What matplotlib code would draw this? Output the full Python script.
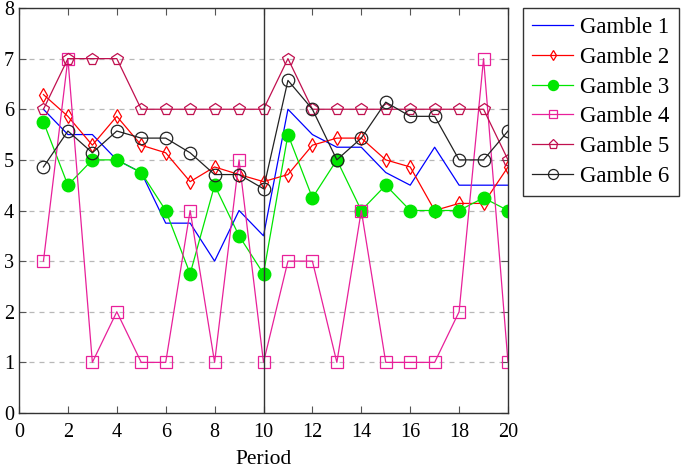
import numpy as np
import matplotlib
matplotlib.use("Agg")
import matplotlib.pyplot as plt

plt.rcParams['font.family'] = ['Liberation Serif', 'DejaVu Serif']
plt.rcParams['mathtext.fontset'] = 'stix'

periods = list(range(1, 21))

gamble1 = [6.0, 5.5, 5.5, 5.0, 4.75, 3.75, 3.75, 3.0, 4.0, 3.5,
           6.0, 5.5, 5.25, 5.25, 4.75, 4.5, 5.25, 4.5, 4.5, 4.5]
gamble2 = [6.29, 5.86, 5.29, 5.86, 5.29, 5.14, 4.57, 4.86, 4.71, 4.57,
           4.71, 5.29, 5.43, 5.43, 5.0, 4.86, 4.0, 4.14, 4.14, 4.86]
gamble3 = [5.75, 4.5, 5.0, 5.0, 4.75, 4.0, 2.75, 4.5, 3.5, 2.75,
           5.5, 4.25, 5.0, 4.0, 4.5, 4.0, 4.0, 4.0, 4.25, 4.0]
gamble4 = [3, 7, 1, 2, 1, 1, 4, 1, 5, 1,
           3, 3, 1, 4, 1, 1, 1, 2, 7, 1]
gamble5 = [6, 7, 7, 7, 6, 6, 6, 6, 6, 6,
           7, 6, 6, 6, 6, 6, 6, 6, 6, 5]
gamble6 = [4.86, 5.57, 5.14, 5.57, 5.43, 5.43, 5.14, 4.71, 4.71, 4.43,
           6.57, 6.0, 5.0, 5.43, 6.14, 5.86, 5.86, 5.0, 5.0, 5.57]

labels = ['Gamble 1', 'Gamble 2', 'Gamble 3', 'Gamble 4', 'Gamble 5', 'Gamble 6']

fig = plt.figure(figsize=(6.85, 4.70), dpi=100)
ax = fig.add_axes([19 / 685, 1 - 413 / 470, (508 - 19) / 685, (413 - 8) / 470])

lw = 0.9
ax.plot(periods, gamble1, color='#0000ff', lw=lw, label=labels[0])
ax.plot(periods, gamble2, color='#ff0000', lw=lw, marker='d', ms=7, mfc='none',
        mew=0.9, label=labels[1])
ax.plot(periods, gamble3, color='#00e600', lw=lw, marker='o', ms=9, mfc='#00e600',
        mec='#00e600', label=labels[2])
ax.plot(periods, gamble4, color='#e8209a', lw=lw, marker='s', ms=8, mfc='none',
        mew=0.9, label=labels[3])
ax.plot(periods, gamble5, color='#c0104f', lw=lw, marker='p', ms=8.5, mfc='none',
        mew=0.9, label=labels[4])
ax.plot(periods, gamble6, color='#222222', lw=lw, marker='o', ms=9, mfc='none',
        mew=0.9, label=labels[5])

ax.axvline(10, color='#333333', lw=1.0)

ax.set_xlim(0, 20)
ax.set_ylim(0, 8)
ax.set_xticks(range(0, 21, 2))
ax.set_yticks(range(0, 9))
ax.yaxis.grid(True, color='#b8b8b8', lw=0.9, dashes=(4, 4))
ax.set_axisbelow(True)
ax.tick_params(direction='in', top=True, right=True, length=5, width=0.8,
               labelsize=14.5, color='#555555')
ax.tick_params(axis='x', pad=7)
for s in ax.spines.values():
    s.set_color('#333333')
    s.set_linewidth(1.0)
ax.set_xlabel('Period', fontsize=15.5, labelpad=6)

fig.legend(loc='upper left', bbox_to_anchor=(523 / 685, 1 - 8 / 470),
           fontsize=16.5, frameon=True, fancybox=False, framealpha=1,
           edgecolor='#333333', handlelength=1.8, handletextpad=0.3,
           labelspacing=0.38, borderpad=0.4, borderaxespad=0, markerscale=0.8)

fig.savefig('out.png', dpi=100)
